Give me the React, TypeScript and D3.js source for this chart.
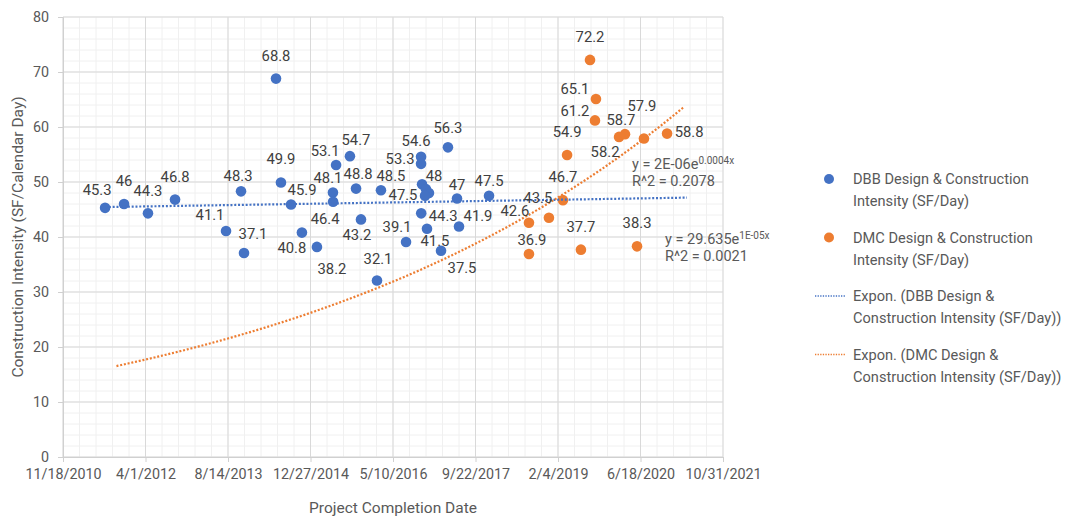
import React, { useEffect, useRef } from "react";
import * as d3 from "d3";

// x axis tick labels (every 500 days) and y ticks
const xTickLabels = ["11/18/2010", "4/1/2012", "8/14/2013", "12/27/2014", "5/10/2016", "9/22/2017", "2/4/2019", "6/18/2020", "10/31/2021"];
const yTicks = [0, 10, 20, 30, 40, 50, 60, 70, 80];

// DBB series
const dbbDates = [
  "2011-07-31", "2011-11-23", "2012-04-16", "2012-09-27", "2013-08-02", "2013-11-01", "2013-11-19",
  "2014-06-01", "2014-07-01", "2014-08-31", "2014-11-05", "2015-02-04", "2015-05-12", "2015-05-13",
  "2015-05-31", "2015-08-23", "2015-09-29", "2015-10-29", "2016-02-03", "2016-02-27", "2016-07-28",
  "2016-10-27", "2016-10-27", "2016-11-02", "2016-11-26", "2016-12-14", "2016-11-20", "2016-10-28",
  "2016-12-02", "2017-02-25", "2017-04-08", "2017-06-02", "2017-06-14", "2017-12-13",
];
const dbbValues = [
  45.3, 46, 44.3, 46.8, 41.1, 48.3, 37.1,
  68.8, 49.9, 45.9, 40.8, 38.2, 48.1, 46.4,
  53.1, 54.7, 48.8, 43.2, 32.1, 48.5, 39.1,
  54.6, 53.3, 49.6, 48.7, 48, 47.5, 44.3,
  41.5, 37.5, 56.3, 47, 41.9, 47.5,
];
// label offset from the marker (dx, dy); null = label hidden behind others
const dbbLabelOffsets: ([number, number] | null)[] = [
  [-8, -18], [0, -23], [0, -23], [0, -23], [-16, -16], [-3, -16], [9, -19],
  [0, -23], [0, -24], [11, -15], [-10, 15], [15, 22], [-5, -15], [-8, 17],
  [-11, -14], [6, -16], [2, -15], [-4, 15], [1, -22], [10, -14], [-9, -15],
  [-5, -16], [-21, -5], null, null, [5, -17], [-22, -1], [22, 2],
  [8, 12], [21, 17], [0, -20], [0, -14], [19, -11], [0, -15],
];

// DMC series
const dmcDates = [
  "2018-08-12", "2018-08-12", "2018-12-11", "2019-03-06", "2019-03-31", "2019-06-23", "2019-08-17",
  "2019-09-22", "2019-09-16", "2020-02-09", "2020-03-16", "2020-05-28", "2020-07-09", "2020-11-26",
];
const dmcValues = [42.6, 36.9, 43.5, 46.7, 54.9, 37.7, 72.2, 65.1, 61.2, 58.2, 58.7, 38.3, 57.9, 58.8];
const dmcLabelOffsets: ([number, number] | null)[] = [
  [-14, -12], [3, -14], [-11, -20], [0, -23], [0, -23], [0, -23], [0, -23],
  [-21, -10], [-20, -10], [-14, 15], [-4, -14], [0, -24], [-2, -33], [22, -2],
];

// trendline forecast (days)
const dbbForecast = { backward: 0, forward: 1200 };
const dmcForecast = { backward: 2500, forward: 100 };

const legendItems = [
  { kind: "dot", color: "#4472C4", lines: ["DBB Design & Construction", "Intensity (SF/Day)"] },
  { kind: "dot", color: "#ED7D31", lines: ["DMC Design & Construction", "Intensity (SF/Day)"] },
  { kind: "line", color: "#4472C4", lines: ["Expon. (DBB Design &", "Construction Intensity (SF/Day))"] },
  { kind: "line", color: "#ED7D31", lines: ["Expon. (DMC Design &", "Construction Intensity (SF/Day))"] },
];

const FONT = "Roboto, 'Open Sans', sans-serif";
const DAY = 86400000;
const BLUE = "#4472C4";
const ORANGE = "#ED7D31";

function expFit(dates: Date[], values: number[]) {
  const xs = dates.map((d) => +d / DAY);
  const ys = values.map(Math.log);
  const mx = d3.mean(xs)!;
  const my = d3.mean(ys)!;
  let sxy = 0, sxx = 0;
  xs.forEach((x, i) => {
    sxy += (x - mx) * (ys[i] - my);
    sxx += (x - mx) * (x - mx);
  });
  const k = sxy / sxx;
  const b = my - k * mx;
  return (d: Date) => Math.exp(b + k * (+d / DAY));
}

export default function App() {
  const ref = useRef<SVGSVGElement>(null);

  useEffect(() => {
    const svg = d3.select(ref.current);
    svg.selectAll("*").remove();

    const parseDate = d3.utcParse("%Y-%m-%d");
    const parseTick = d3.utcParse("%m/%d/%Y");
    const tickDates = xTickLabels.map((s) => parseTick(s)!);

    const x = d3.scaleUtc()
      .domain([tickDates[0], tickDates[tickDates.length - 1]])
      .range([63, 723]);
    const y = d3.scaleLinear().domain([0, 80]).range([457, 17]);

    const x0 = x.range()[0], x1 = x.range()[1];
    const y0 = y.range()[0], y1 = y.range()[1];

    // minor gridlines
    const minorX = d3.range(+tickDates[0], +tickDates[tickDates.length - 1] + 1, 100 * DAY)
      .map((t) => new Date(t));
    const minorY = d3.range(0, 81, 2);
    const grid = svg.append("g");
    grid.selectAll("line.mx").data(minorX).enter().append("line")
      .attr("x1", (d) => x(d)).attr("x2", (d) => x(d))
      .attr("y1", y1).attr("y2", y0)
      .attr("stroke", "#f0f0f0").attr("stroke-width", 1);
    grid.selectAll("line.my").data(minorY).enter().append("line")
      .attr("x1", x0).attr("x2", x1)
      .attr("y1", (d) => y(d)).attr("y2", (d) => y(d))
      .attr("stroke", "#f0f0f0").attr("stroke-width", 1);
    // major gridlines
    grid.selectAll("line.Mx").data(tickDates).enter().append("line")
      .attr("x1", (d) => x(d)).attr("x2", (d) => x(d))
      .attr("y1", y1).attr("y2", y0)
      .attr("stroke", "#d9d9d9").attr("stroke-width", 1);
    grid.selectAll("line.My").data(yTicks).enter().append("line")
      .attr("x1", x0).attr("x2", x1)
      .attr("y1", (d) => y(d)).attr("y2", (d) => y(d))
      .attr("stroke", "#d9d9d9").attr("stroke-width", 1);

    // axes
    const xAxis = d3.axisBottom(x)
      .tickValues(tickDates)
      .tickFormat((_d, i) => xTickLabels[i])
      .tickSize(5)
      .tickPadding(7);
    const gx = svg.append("g").attr("transform", `translate(0,${y0})`).call(xAxis);
    const yAxis = d3.axisLeft(y).tickValues(yTicks).tickSize(5).tickPadding(9);
    const gy = svg.append("g").attr("transform", `translate(${x0},0)`).call(yAxis);
    [gx, gy].forEach((g) => {
      g.select(".domain").attr("stroke", "#d0d0d0");
      g.selectAll(".tick line").attr("stroke", "#d0d0d0");
      g.selectAll(".tick text")
        .attr("fill", "#595959")
        .style("font-family", FONT)
        .style("font-size", "14.3px");
    });

    // axis titles
    svg.append("text")
      .attr("x", 393).attr("y", 513)
      .attr("text-anchor", "middle")
      .attr("fill", "#595959")
      .style("font-family", FONT).style("font-size", "15.5px")
      .text("Project Completion Date");
    svg.append("text")
      .attr("transform", `translate(23,${(y0 + y1) / 2}) rotate(-90)`)
      .attr("text-anchor", "middle")
      .attr("fill", "#595959")
      .style("font-family", FONT).style("font-size", "15.5px")
      .text("Construction Intensity (SF/Calendar Day)");

    const dbb = dbbDates.map((s, i) => ({ date: parseDate(s)!, value: dbbValues[i], off: dbbLabelOffsets[i] }));
    const dmc = dmcDates.map((s, i) => ({ date: parseDate(s)!, value: dmcValues[i], off: dmcLabelOffsets[i] }));

    // trendlines
    const line = d3.line<Date>().x((d) => x(d));
    const trend = (series: typeof dbb, fc: { backward: number; forward: number }, color: string) => {
      const f = expFit(series.map((d) => d.date), series.map((d) => d.value));
      const ext = d3.extent(series, (d) => +d.date) as [number, number];
      const start = ext[0] - fc.backward * DAY;
      const end = ext[1] + fc.forward * DAY;
      const pts = d3.range(start, end, 10 * DAY).map((t) => new Date(t)).concat([new Date(end)]);
      svg.append("path")
        .attr("d", line.y((d) => y(f(d)))(pts))
        .attr("fill", "none")
        .attr("stroke", color)
        .attr("stroke-width", 2.2)
        .attr("stroke-dasharray", "2,1.8");
    };

    // markers + labels
    const drawSeries = (series: typeof dbb, color: string) => {
      svg.append("g").selectAll("circle").data(series).enter().append("circle")
        .attr("cx", (d) => x(d.date))
        .attr("cy", (d) => y(d.value))
        .attr("r", 5.3)
        .attr("fill", color);
    };
    const drawLabels = (series: typeof dbb) => {
      svg.append("g").selectAll("text").data(series.filter((d) => d.off)).enter().append("text")
        .attr("x", (d) => x(d.date) + d.off![0])
        .attr("y", (d) => y(d.value) + d.off![1])
        .attr("dy", "0.35em")
        .attr("text-anchor", "middle")
        .attr("fill", "#404040")
        .style("font-family", FONT).style("font-size", "14.8px")
        .text((d) => String(d.value));
    };

    drawSeries(dbb, BLUE);
    drawSeries(dmc, ORANGE);
    trend(dbb, dbbForecast, BLUE);
    trend(dmc, dmcForecast, ORANGE);
    drawLabels(dbb);
    drawLabels(dmc);

    // trendline equations
    const eq = (tx: number, ty: number, main: string, sup: string, r2: string) => {
      const t = svg.append("text")
        .attr("x", tx).attr("y", ty)
        .attr("fill", "#595959")
        .style("font-family", FONT).style("font-size", "14.5px");
      t.append("tspan").text(main);
      t.append("tspan").attr("dy", -5).style("font-size", "10px").text(sup);
      svg.append("text")
        .attr("x", tx).attr("y", ty + 17)
        .attr("fill", "#595959")
        .style("font-family", FONT).style("font-size", "14.5px")
        .text(r2);
    };
    eq(632, 169, "y = 2E-06e", "0.0004x", "R^2 = 0.2078");
    eq(665, 244, "y = 29.635e", "1E-05x", "R^2 = 0.0021");

    // legend
    const lg = svg.append("g");
    legendItems.forEach((item, i) => {
      const cy = 179 + i * 58.5;
      if (item.kind === "dot") {
        lg.append("circle").attr("cx", 829).attr("cy", cy).attr("r", 5).attr("fill", item.color);
      } else {
        lg.append("line")
          .attr("x1", 815).attr("x2", 846).attr("y1", cy).attr("y2", cy)
          .attr("stroke", item.color).attr("stroke-width", 1.3)
          .attr("stroke-dasharray", "1.3,1.3");
      }
      item.lines.forEach((s, j) => {
        lg.append("text")
          .attr("x", 853).attr("y", cy + j * 22)
          .attr("dy", "0.35em")
          .attr("fill", "#595959")
          .style("font-family", FONT).style("font-size", "14.6px")
          .text(s);
      });
    });
  }, []);

  return (
    <div style={{ position: "absolute", left: 0, top: 0 }}>
      <svg ref={ref} width={1065} height={519} style={{ display: "block", background: "#fff" }} />
    </div>
  );
}
